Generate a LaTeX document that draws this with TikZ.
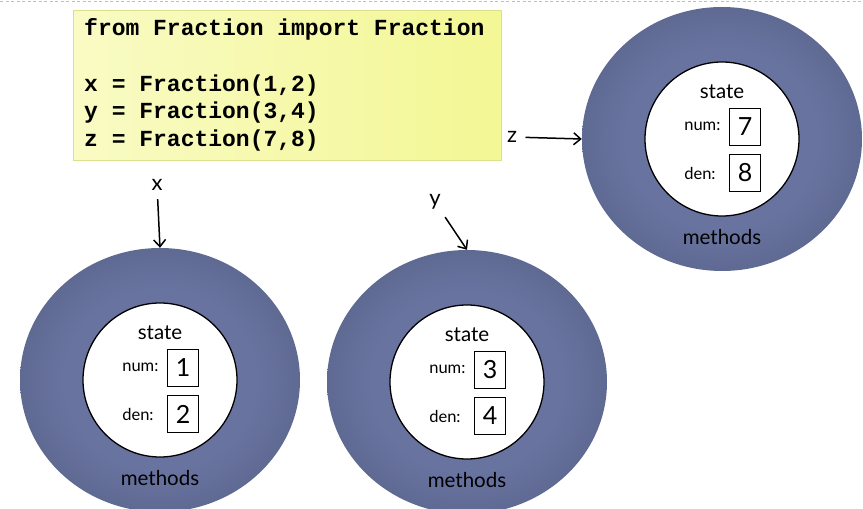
\documentclass[tikz,border=0pt]{standalone}
\usepackage{fontspec}
\setmainfont{Lato}
\newfontfamily\codefont{Liberation Mono}
\usetikzlibrary{shapes.geometric,arrows.meta}

\definecolor{ringlight}{HTML}{6973A0}
\definecolor{ringdark}{HTML}{5F6A93}
\definecolor{codeyellow}{HTML}{F3F794}
\definecolor{codelight}{HTML}{F9FBC4}
\definecolor{codeedge}{HTML}{DCE08C}
\definecolor{rulecolor}{HTML}{A8C3DF}

% object ring: a touch lighter towards the middle, darker at the rim
\pgfdeclareradialshading{ringshade}{\pgfpoint{0bp}{0bp}}{color(0bp)=(ringlight); color(17bp)=(ringlight); color(25bp)=(ringdark); color(50bp)=(ringdark)}

\tikzset{
  object/.style={ellipse, minimum width=280pt, minimum height=264pt, inner sep=0pt, shade, shading=ringshade},
  statering/.style={circle, draw, line width=1.3pt, fill=white, minimum size=154pt, inner sep=0pt},
  valbox/.style={draw, line width=0.8pt, fill=white, minimum width=31pt, minimum height=37pt, inner sep=0pt, font=\fontsize{25}{27}\selectfont},
  fieldlabel/.style={anchor=west, inner sep=0pt, font=\fontsize{16.5}{18}\selectfont},
  titlelabel/.style={inner sep=0pt, font=\fontsize{20.5}{22}\selectfont},
  codeline/.style={anchor=base west, inner sep=0pt, font=\codefont\bfseries\fontsize{23}{27}\selectfont},
  varname/.style={font=\fontsize{22}{24}\selectfont},
  ref/.style={line width=1.5pt, -{Straight Barb[length=7pt,width=12pt]}, shorten <=5pt},
}

\begin{document}
\begin{tikzpicture}[x=1pt,y=1pt]
  \useasboundingbox (0,0) rectangle (863,509);
  \draw[rulecolor, line width=1pt, dash pattern=on 3pt off 2.5pt] (0,507) -- (863,507);

  % the code
  \node[draw=codeedge, left color=codelight, right color=codeyellow,
        minimum width=428pt, minimum height=150pt, anchor=north west, inner sep=0pt] (code) at (73,499) {};
  \node[codeline] (imp) at (84,473) {from Fraction import Fraction};
  \node[codeline] (defx) at (84,417) {x = Fraction(1,2)};
  \node[codeline] (defy) at (84,390) {y = Fraction(3,4)};
  \node[codeline] (defz) at (84,362) {z = Fraction(7,8)};

  % one object per fraction
  \foreach \name/\cx/\cy/\num/\den in {x/160/129/1/2, y/467/127/3/4, z/722/370/7/8}{
    \node[object] (obj\name) at (\cx,\cy) {};
    \node[statering] (st\name) at (obj\name) {};
    \node[titlelabel] (stl\name) at ([yshift=47pt]obj\name) {state};
    \node[valbox] (nb\name) at ([xshift=23pt,yshift=12.5pt]obj\name) {\num};
    \node[valbox] (db\name) at ([xshift=23pt,yshift=-34pt]obj\name) {\den};
    \node[fieldlabel] (nl\name) at ([xshift=-45pt]nb\name.west) {num:};
    \node[fieldlabel] (dl\name) at ([xshift=-45pt]db\name.west) {den:};
    \node[titlelabel] (ml\name) at ([yshift=-98pt]obj\name) {methods};
  }

  % variable names pointing at their objects
  \node[varname] (varx) at (157,324) {x};
  \node[varname] (vary) at (435,307) {y};
  \node[varname] (varz) at (512,372) {z};
  \draw[ref] (varx) -- (objx.north);
  \draw[ref] (vary) -- (objy.north);
  \draw[ref] (varz) -- (objz.west);
\end{tikzpicture}
\end{document}
